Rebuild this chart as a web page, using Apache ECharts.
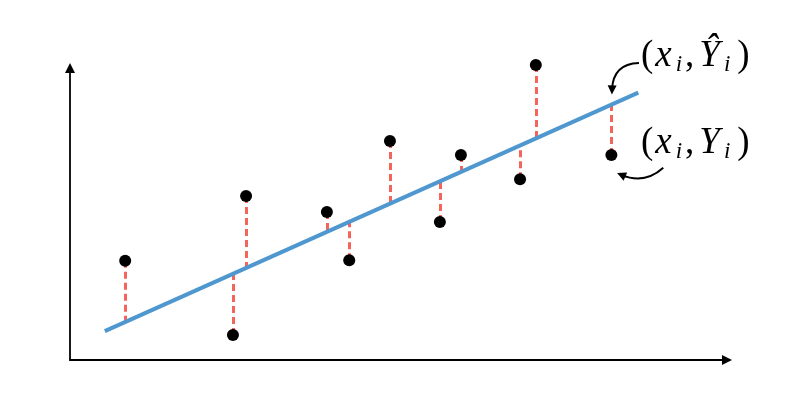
<!DOCTYPE html>
<html>
<head>
<meta charset="utf-8">
<script src="https://cdn.jsdelivr.net/npm/echarts@6/dist/echarts.min.js"></script>
<style>
    html, body { margin: 0; background: #fff; }
    #chart { width: 800px; height: 400px; }
</style>
</head>
<body>
<div id="chart"></div>
<script>
// observed points
const pointX = [8.4, 24.8, 26.8, 39.1, 42.5, 48.7, 56.3, 59.5, 68.5, 70.9, 82.4]
const pointY = [34.0, 8.6, 56.2, 50.7, 34.2, 75.0, 47.3, 70.2, 61.9, 101.0, 70.2]
// fitted line  Y^ = intercept + slope * x
const fitX = [5.3, 86.5]
const intercept = 4.54
const slope = 1.006
// annotation arrows [x0, y0, x1, y1] and label anchors [x, y]
const arrowHat = [86.6, 101.7, 82.5, 92.5]
const arrowObs = [90.3, 65.8, 83.9, 63.4]
const labelHat = [86.9, 104.1]
const labelObs = [86.9, 74.3]

function fitted(x) {
    return intercept + slope * x
}

const scatterData = pointX.map((x, i) => [x, pointY[i]])
const fitData = fitX.map(x => [x, fitted(x)])
const residualData = pointX.map((x, i) => ({ coords: [[x, pointY[i]], [x, fitted(x)]] }))

const serif = 'Liberation Serif'
function tok(extra) {
    return Object.assign({ fontFamily: serif, fontSize: 37, lineHeight: 40, fill: '#000' }, extra)
}
const richText = {
    p: tok({ padding: [0, 2, 0, 0] }),
    q: tok({ padding: [0, 0, 0, 4] }),
    v: tok({ fontStyle: 'italic', padding: [0, 4, 0, 0] }),
    s: tok({ fontStyle: 'italic', fontSize: 23, lineHeight: 22, verticalAlign: 'bottom', padding: [0, 3, 0, 0] }),
    c: tok({ padding: [0, 5, 0, 0] }),
}

function arrow(a, curve) {
    return {
        type: 'lines',
        coordinateSystem: 'cartesian2d',
        clip: false,
        z: 5,
        symbol: ['none', 'triangle'],
        symbolSize: 9,
        lineStyle: { color: '#000', width: 2, opacity: 1, curveness: curve },
        itemStyle: { color: '#000' },
        data: [{ coords: [[a[0], a[1]], [a[2], a[3]]] }]
    }
}

const chart = echarts.init(document.getElementById('chart'))
chart.setOption({
    animation: false,
    grid: { left: 70, right: 73, top: 68, bottom: 40 },
    xAxis: {
        type: 'value', min: 0, max: 100,
        axisLine: { show: true, symbol: ['none', 'triangle'], symbolSize: [10, 10], lineStyle: { color: '#000', width: 1.8 } },
        axisTick: { show: false }, axisLabel: { show: false }, splitLine: { show: false }
    },
    yAxis: {
        type: 'value', min: 0, max: 100,
        axisLine: { show: true, symbol: ['none', 'triangle'], symbolSize: [10, 10], lineStyle: { color: '#000', width: 1.8 } },
        axisTick: { show: false }, axisLabel: { show: false }, splitLine: { show: false }
    },
    series: [
        {
            type: 'lines',
            coordinateSystem: 'cartesian2d',
            z: 1,
            lineStyle: { color: '#f4645a', width: 3, type: [7, 4], opacity: 1 },
            data: residualData
        },
        {
            type: 'line',
            z: 2,
            symbol: 'none',
            lineStyle: { color: '#4f97cf', width: 4 },
            data: fitData
        },
        {
            type: 'scatter',
            z: 3,
            clip: false,
            symbolSize: 12,
            itemStyle: { color: '#000', opacity: 1 },
            data: scatterData
        },
        arrow(arrowHat, -0.47),
        arrow(arrowObs, 0.32)
    ]
})

// text labels, placed from data coords
function labelGraphic(pos, text) {
    const px = chart.convertToPixel({ gridIndex: 0 }, pos)
    return {
        type: 'text',
        x: px[0],
        y: px[1],
        z: 10,
        style: { text: text, rich: richText, fill: '#000', verticalAlign: 'middle', align: 'left' }
    }
}
chart.setOption({
    graphic: [
        labelGraphic(labelHat, '{p|(}{v|x}{s|i}{c|,}{v|Ŷ}{s|i}{q|)}'),
        labelGraphic(labelObs, '{p|(}{v|x}{s|i}{c|,}{v|Y}{s|i}{q|)}')
    ]
})
</script>
</body>
</html>
